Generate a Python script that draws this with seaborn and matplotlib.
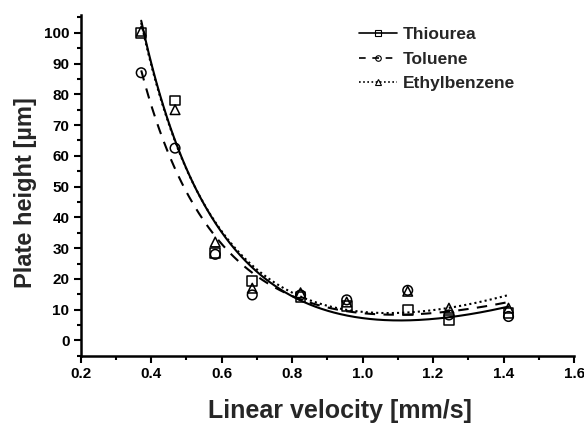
import numpy as np
import pandas as pd
import matplotlib
matplotlib.use("Agg")
import matplotlib.pyplot as plt
import seaborn as sns
from matplotlib.lines import Line2D
from matplotlib.ticker import MultipleLocator

# Measured plate heights vs. linear velocity
velocity = [0.372, 0.468, 0.582, 0.687, 0.824, 0.955, 1.128, 1.245, 1.414]
thiourea = [100.0, 78.0, 28.5, 19.4, 14.2, 11.3, 10.0, 6.7, 9.0]
toluene = [87.0, 62.5, 28.0, 14.8, 14.8, 13.2, 16.3, 8.3, 7.8]
ethylbenzene = [100.5, 75.0, 32.0, 17.0, 15.5, 12.5, 16.0, 10.5, 10.5]

series_names = ["Thiourea", "Toluene", "Ethylbenzene"]
series_values = [thiourea, toluene, ethylbenzene]
markers = {"Thiourea": "s", "Toluene": "o", "Ethylbenzene": "^"}
dashes = {"Thiourea": "", "Toluene": (5, 4), "Ethylbenzene": (1, 1.5)}

sns.set_theme(style="ticks")
plt.rcParams["font.family"] = ["Liberation Sans", "DejaVu Sans"]
plt.rcParams["font.weight"] = "bold"

points = pd.DataFrame({
    "u": np.tile(velocity, len(series_names)),
    "H": np.concatenate(series_values),
    "compound": np.repeat(series_names, len(velocity)),
})

# van Deemter fit H = A + B/u + C*u for each compound
u_arr = np.asarray(velocity)
grid = np.linspace(u_arr.min(), u_arr.max(), 300)
fit_frames = []
for name, vals in zip(series_names, series_values):
    basis = np.column_stack([np.ones_like(u_arr), 1 / u_arr, u_arr])
    coef, *_ = np.linalg.lstsq(basis, np.asarray(vals), rcond=None)
    h = coef[0] + coef[1] / grid + coef[2] * grid
    fit_frames.append(pd.DataFrame({"u": grid, "H": h, "compound": name}))
fits = pd.concat(fit_frames, ignore_index=True)

fig = plt.figure(figsize=(5.84, 4.34), dpi=100)
ax = fig.add_axes([0.138, 0.18, 0.845, 0.785])

sns.lineplot(data=fits, x="u", y="H", style="compound", dashes=dashes,
             color="black", linewidth=1.5, legend=False, ax=ax)
sns.scatterplot(data=points, x="u", y="H", style="compound", markers=markers,
                s=48, facecolor="none", edgecolor="black", linewidth=1.1,
                legend=False, ax=ax)
for coll in ax.collections:
    coll.set_facecolor("none")
    coll.set_edgecolor("black")

ax.set_xlim(0.2, 1.6)
ax.set_ylim(-5, 105.7)
ax.xaxis.set_major_locator(MultipleLocator(0.2))
ax.xaxis.set_minor_locator(MultipleLocator(0.1))
ax.yaxis.set_major_locator(MultipleLocator(10))
ax.yaxis.set_minor_locator(MultipleLocator(5))
ax.set_yticks(np.arange(0, 101, 10))
ax.tick_params(which="major", direction="out", length=5, width=1.5,
               labelsize=11, color="black", labelcolor="black", pad=3)
ax.tick_params(which="minor", direction="out", length=3, width=1.5, color="black")
for lab in ax.get_xticklabels() + ax.get_yticklabels():
    lab.set_fontweight("bold")
sns.despine(ax=ax)
for side in ("left", "bottom"):
    ax.spines[side].set_linewidth(1.8)
    ax.spines[side].set_color("black")

ax.set_xlabel("Linear velocity [mm/s]", fontsize=18, fontweight="bold", labelpad=13)
ax.set_ylabel("Plate height [µm]", fontsize=17, fontweight="bold", labelpad=5)
ax.xaxis.label.set_x(0.525)
ax.yaxis.label.set_y(0.48)

handles = [
    Line2D([], [], color="black", ls="-", lw=1.2, marker="s", ms=4,
           mfc="none", mec="black", mew=0.8),
    Line2D([], [], color="black", ls=(0, (4, 4)), lw=1.2, marker="o", ms=4,
           mfc="none", mec="black", mew=0.8),
    Line2D([], [], color="black", ls=(0, (1, 1.5)), lw=1.2, marker="^", ms=4,
           mfc="none", mec="black", mew=0.8),
]
fig.legend(handles, series_names, loc="upper left", bbox_to_anchor=(0.588, 0.973),
           frameon=False, handlelength=2.2, handletextpad=0.3, labelspacing=0.52,
           prop={"weight": "bold", "size": 12.5})

fig.savefig("out.png", dpi=100)
